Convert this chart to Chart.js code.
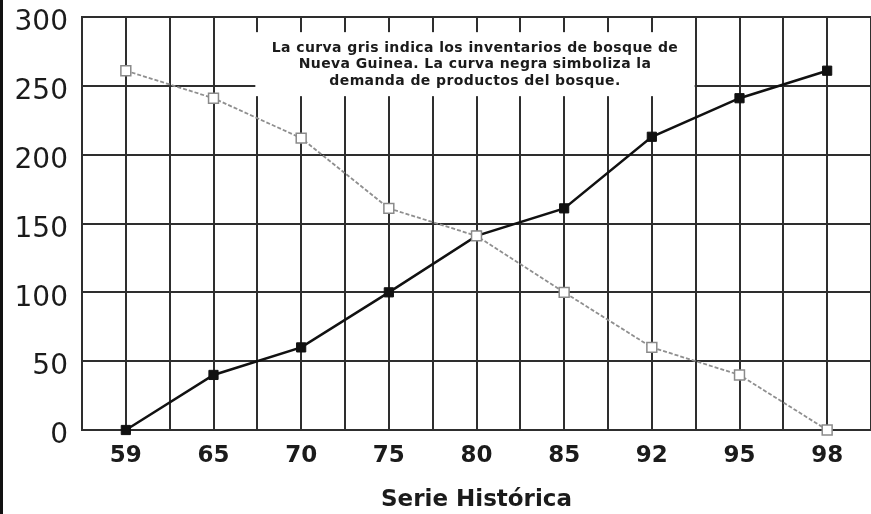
<!DOCTYPE html>
<html>
<head>
<meta charset="utf-8">
<script src="https://cdn.jsdelivr.net/npm/chart.js@4.4.1/dist/chart.umd.min.js"></script>
<style>
  html, body { margin: 0; padding: 0; background: #fff; }
  #wrap { position: relative; width: 871px; height: 514px; }
  #edge { position: absolute; left: 0; top: 0; width: 3px; height: 514px; background: #111; }
</style>
</head>
<body>
<div id="wrap">
  <canvas id="chart" width="871" height="514"></canvas>
  <div id="edge"></div>
</div>
<script>
// Data
const years = ["59", "65", "70", "75", "80", "85", "92", "95", "98"];
const inventario = [261, 241, 212, 161, 141, 100, 60, 40, 0]; // curva gris
const demanda = [0, 40, 60, 100, 141, 161, 213, 241, 261]; // curva negra
const yMin = 0;
const yMax = 300;
const yStep = 50;
const note = [
  "La curva gris indica los inventarios de bosque de",
  "Nueva Guinea. La curva negra simboliza la",
  "demanda de productos del bosque.",
];
const axisTitle = "Serie Histórica";

const ink = "#1b1b1b";
const gridColor = "#2e2e2e";

// white box with the note, placed with the scales
const notePlugin = {
  id: "note",
  beforeDatasetsDraw(chart) {
    const { ctx, scales } = chart;
    const x0 = scales.x.getPixelForValue(1.5) - 2;
    const x1 = scales.x.getPixelForValue(6.5) - 1;
    const y0 = scales.y.getPixelForValue(289);
    const y1 = scales.y.getPixelForValue(242.5);
    ctx.save();
    ctx.fillStyle = "#fff";
    ctx.fillRect(x0, y0, x1 - x0, y1 - y0);
    ctx.fillStyle = ink;
    ctx.font = "bold 14px 'DejaVu Sans'";
    ctx.letterSpacing = "0.4px";
    ctx.textAlign = "center";
    ctx.textBaseline = "middle";
    const cx = (x0 + x1) / 2;
    note.forEach((line, i) => {
      ctx.fillText(line, cx, y0 + 16 + i * 16.5);
    });
    ctx.restore();
  },
};

const ctx = document.getElementById("chart").getContext("2d");

new Chart(ctx, {
  type: "line",
  data: {
    datasets: [
      {
        label: "Inventarios",
        data: inventario.map((v, i) => ({ x: i, y: v })),
        borderColor: "#8f8f8f",
        borderWidth: 1.8,
        borderDash: [4, 2],
        pointStyle: "rect",
        pointRadius: 7,
        pointBackgroundColor: "#fff",
        pointBorderColor: "#8a8a8a",
        pointBorderWidth: 1.5,
        tension: 0,
      },
      {
        label: "Demanda",
        data: demanda.map((v, i) => ({ x: i, y: v })),
        borderColor: "#111",
        borderWidth: 2.5,
        pointStyle: "rect",
        pointRadius: 6.5,
        pointBackgroundColor: "#111",
        pointBorderColor: "#111",
        pointBorderWidth: 1,
        tension: 0,
      },
    ],
  },
  options: {
    responsive: false,
    animation: false,
    clip: false,
    layout: { autoPadding: false, padding: { top: 17, right: 0, bottom: 0, left: 0 } },
    plugins: {
      legend: { display: false },
      tooltip: { enabled: false },
    },
    scales: {
      x: {
        type: "linear",
        min: -0.5,
        max: years.length - 0.5,
        border: { display: true, color: gridColor, width: 2 },
        grid: { color: gridColor, lineWidth: 2, drawTicks: false },
        ticks: {
          stepSize: 0.5,
          autoSkip: false,
          maxRotation: 0,
          padding: 12,
          color: ink,
          font: { family: "'DejaVu Sans'", size: 23, weight: "bold" },
          callback: (v) => (Number.isInteger(v) && v >= 0 && v < years.length ? years[v] : ""),
        },
        title: {
          display: true,
          text: axisTitle,
          color: ink,
          font: { family: "'DejaVu Sans'", size: 23, weight: "bold" },
          padding: { top: 0, bottom: 0 },
        },
        afterFit: (scale) => {
          scale.height = 84;
          scale.paddingLeft = 0;
          scale.paddingRight = 0;
        },
      },
      y: {
        min: yMin,
        max: yMax,
        border: { display: true, color: gridColor, width: 2 },
        grid: { color: gridColor, lineWidth: 2, drawTicks: false },
        ticks: {
          stepSize: yStep,
          padding: 14,
          labelOffset: 6,
          color: ink,
          font: { family: "'DejaVu Sans'", size: 28 },
        },
        afterFit: (scale) => {
          scale.width = 82;
          scale.paddingTop = 0;
          scale.paddingBottom = 0;
        },
      },
    },
  },
  plugins: [notePlugin],
});
</script>
</body>
</html>
